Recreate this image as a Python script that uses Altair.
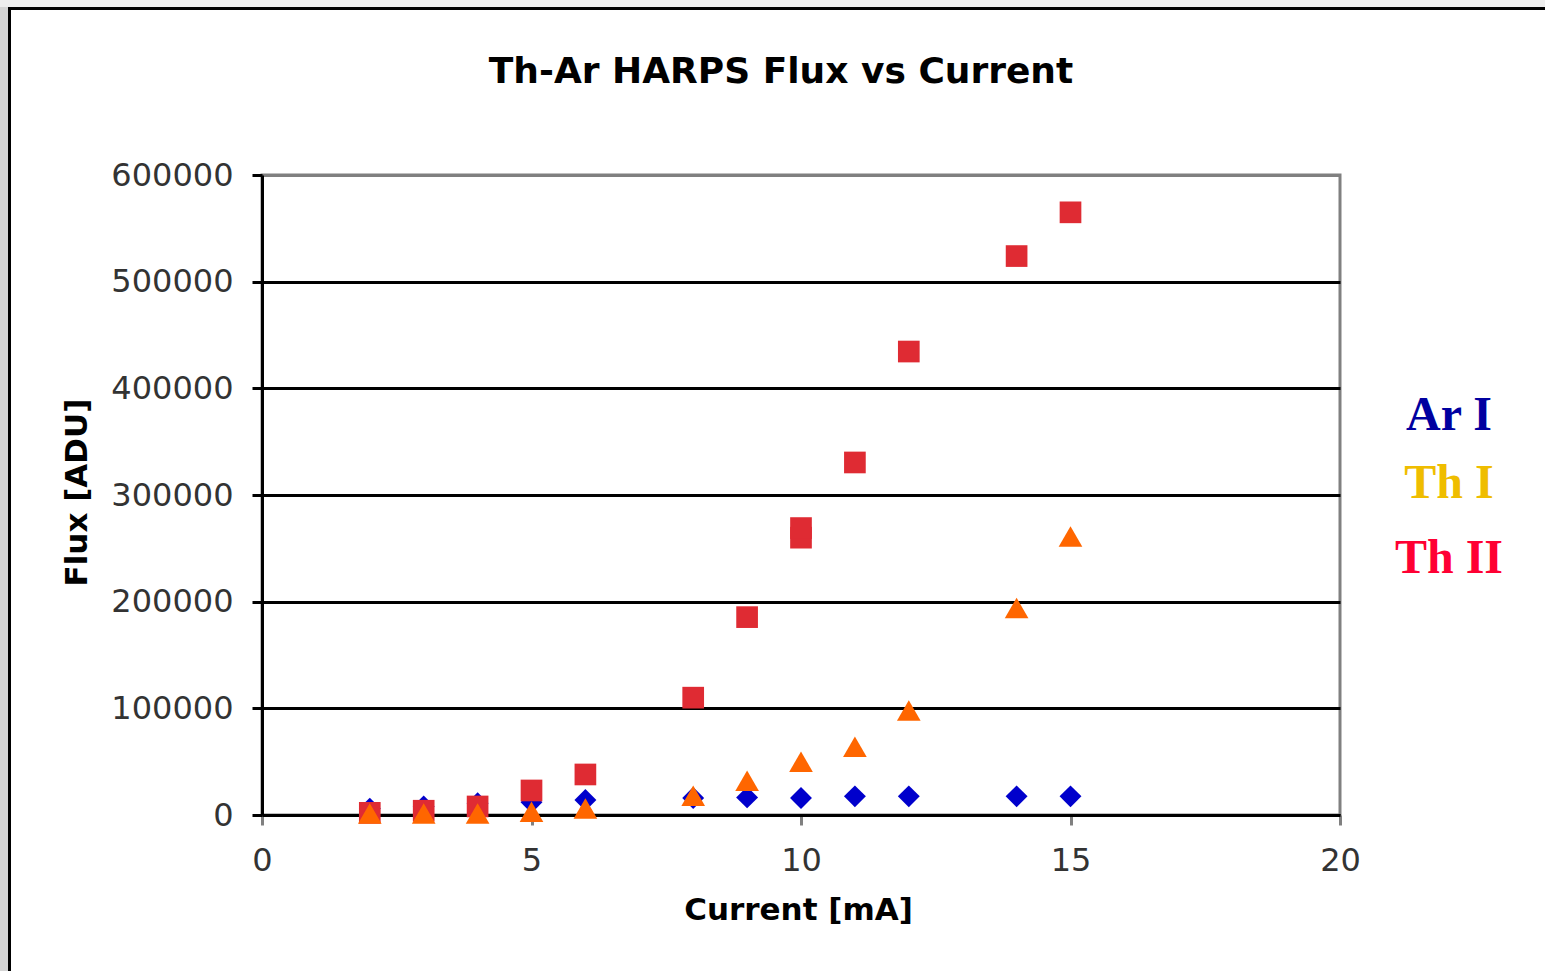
import altair as alt
import pandas as pd

# ---- data ----
ar_current = [2, 3, 4, 5, 6, 8, 9, 10, 11, 12, 14, 15]
ar_flux = [6000, 8000, 11000, 12000, 14000, 16000, 16500, 16000, 17500, 17500, 17500, 17500]

th1_current = [2, 3, 4, 5, 6, 8, 9, 10, 11, 12, 14, 15]
th1_flux = [1500, 1500, 1500, 3000, 6000, 18000, 32000, 50000, 64000, 98000, 194000, 261000]

th2_current = [2, 3, 4, 5, 6, 8, 9, 10, 10, 11, 12, 14, 15]
th2_flux = [2000, 4000, 8000, 23000, 38000, 110000, 185500, 260000, 269000, 330500, 434500, 524000, 565000]

legend_labels = ["Ar I", "Th I", "Th II"]
legend_colors = ["#0000A0", "#EFBD00", "#FF0033"]

title_text = "Th-Ar HARPS Flux vs Current"

y_ticks = [0, 100000, 200000, 300000, 400000, 500000, 600000]
x_ticks = [0, 5, 10, 15, 20]

W, H = 1078, 640
PAD = {"left": 262, "top": 175, "right": 205, "bottom": 156}

xscale = alt.Scale(domain=[0, 20], nice=False, zero=True)
yscale = alt.Scale(domain=[0, 600000], nice=False)

x_axis = alt.Axis(
    values=x_ticks, title="Current [mA]", grid=False, labelFlush=False,
    labelFont="DejaVu Sans", labelFontSize=32, labelColor="#333333",
    labelPadding=20, tickSize=10, tickColor="#808080", tickWidth=3,
    domainColor="black", domainWidth=3,
    titleFont="DejaVu Sans", titleFontSize=31, titleFontWeight="bold", titleColor="black",
    titleX=536, titleY=95, titleBaseline="middle", titleAlign="center",
)
y_axis = alt.Axis(
    values=y_ticks, format="d", title="Flux [ADU]", labelFlush=False,
    grid=True, gridWidth=3,
    gridColor={"condition": {"test": "datum.value >= 600000", "value": "#808080"}, "value": "black"},
    labelFont="DejaVu Sans", labelFontSize=32, labelColor="#333333",
    labelPadding=19, tickSize=10, tickColor="black", tickWidth=3,
    domainColor="black", domainWidth=3,
    titleFont="DejaVu Sans", titleFontSize=31, titleFontWeight="bold", titleColor="black",
    titleX=-185, titleY=317, titleAngle=270, titleBaseline="middle", titleAlign="center",
)

def series(cur, flux, shape, color, size):
    df = pd.DataFrame({"current": cur, "flux": flux})
    return alt.Chart(df).mark_point(shape=shape, filled=True, color=color, size=size, opacity=1, strokeWidth=0).encode(
        x=alt.X("current:Q", scale=xscale, axis=x_axis),
        y=alt.Y("flux:Q", scale=yscale, axis=y_axis),
    )

blue = series(ar_current, ar_flux, "diamond", "#0000CC", 480)
red = series(th2_current, th2_flux, "square", "#DF2B33", 470)
orange = series(th1_current, th1_flux, "triangle-up", "#FF6600", 560)

# custom text legend
legend_y = [255, 323, 398]
legend_layers = []
for lab, col, yy in zip(legend_labels, legend_colors, legend_y):
    legend_layers.append(
        alt.Chart(pd.DataFrame({"t": [lab]})).mark_text(
            font="Liberation Serif", fontSize=48, fontWeight="bold", color=col,
            align="center", baseline="alphabetic",
        ).encode(x=alt.value(1187), y=alt.value(yy), text="t:N")
    )

# chart title as a text mark
title_layer = alt.Chart(pd.DataFrame({"t": [title_text]})).mark_text(
    font="DejaVu Sans", fontSize=36, fontWeight="bold", color="black",
    align="center", baseline="alphabetic",
).encode(x=alt.value(519), y=alt.value(-92), text="t:N")

# outer page frame
frame_df = pd.DataFrame({"a": [0]})
top_strip = alt.Chart(frame_df).mark_rect(color="#EEEEEE").encode(
    x=alt.value(-262), x2=alt.value(1283), y=alt.value(-175), y2=alt.value(-168))
left_strip = alt.Chart(frame_df).mark_rect(color="#D4D4D4").encode(
    x=alt.value(-262), x2=alt.value(-254), y=alt.value(-168), y2=alt.value(796))
top_line = alt.Chart(frame_df).mark_rule(color="black", strokeWidth=3).encode(
    x=alt.value(-254), x2=alt.value(1283), y=alt.value(-166.5))
left_line = alt.Chart(frame_df).mark_rule(color="black", strokeWidth=3).encode(
    x=alt.value(-252.5), y=alt.value(-168), y2=alt.value(796))

chart = alt.layer(
    top_strip, left_strip, top_line, left_line,
    blue, red, orange, *legend_layers, title_layer,
).properties(
    width=W, height=H,
    autosize=alt.AutoSizeParams(type="none"),
    padding=PAD,
    background="white",
).configure_view(stroke="#808080", strokeWidth=3)

chart.save("out.html", embed_options={"renderer": "svg", "actions": False})
